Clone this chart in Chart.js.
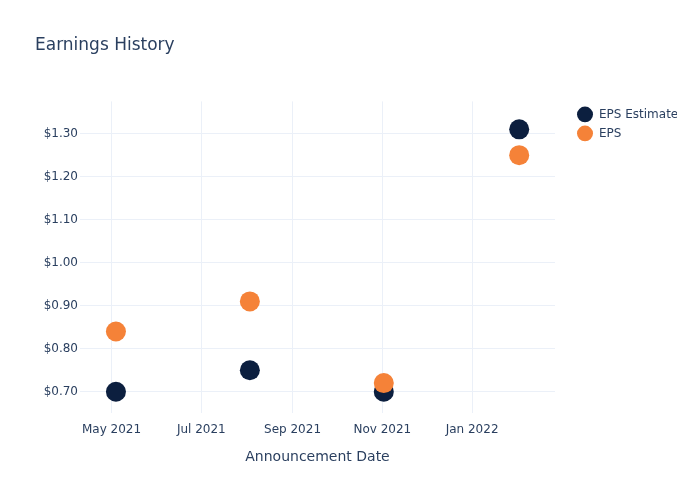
<!DOCTYPE html>
<html>
<head>
<meta charset="utf-8">
<script src="https://cdn.jsdelivr.net/npm/chart.js@4"></script>
<style>
  html, body { margin: 0; padding: 0; background: #fff; }
  #wrap { width: 700px; height: 500px; }
</style>
</head>
<body>
<div id="wrap"><canvas id="earnings"></canvas></div>
<script>
// announcement dates and values
const dates = ['2021-05-04', '2021-08-03', '2021-11-02', '2022-02-02'];
const epsEstimate = [0.70, 0.75, 0.70, 1.31];
const eps = [0.84, 0.91, 0.72, 1.25];

const xTickDates = ['2021-05-01', '2021-07-01', '2021-09-01', '2021-11-01', '2022-01-01'];
const xTickLabels = ['May 2021', 'Jul 2021', 'Sep 2021', 'Nov 2021', 'Jan 2022'];
const yTicks = [0.7, 0.8, 0.9, 1.0, 1.1, 1.2, 1.3];

const textColor = '#2a3f5f';
const gridColor = '#ebf0f8';

Chart.defaults.font.family = '"DejaVu Sans", Verdana, sans-serif';
Chart.defaults.color = textColor;

function toPoints(values) {
    return values.map((v, i) => ({ x: Date.parse(dates[i]), y: v }));
}

let ctx = document.getElementById('earnings').getContext('2d');

let chart = new Chart(ctx, {
    type: 'scatter',
    data: {
        datasets: [{
            label: 'EPS Estimate',
            data: toPoints(epsEstimate),
            backgroundColor: '#0c1f3f',
            borderWidth: 0,
            pointRadius: 10,
            pointHoverRadius: 10,
            order: 1
        }, {
            label: 'EPS',
            data: toPoints(eps),
            backgroundColor: '#f58238',
            borderWidth: 0,
            pointRadius: 10,
            pointHoverRadius: 10,
            order: 0
        }]
    },
    options: {
        responsive: true,
        maintainAspectRatio: false,
        animation: false,
        layout: {
            padding: { left: 35, right: 23, top: 0, bottom: 0 }
        },
        plugins: {
            title: {
                display: true,
                text: 'Earnings History',
                align: 'start',
                color: textColor,
                font: { size: 17, weight: 'normal' },
                padding: { top: 35, bottom: 46 }
            },
            legend: {
                position: 'right',
                align: 'start',
                fullSize: false,
                labels: {
                    usePointStyle: true,
                    pointStyle: 'circle',
                    boxHeight: 11,
                    pointStyleWidth: 16,
                    padding: 7,
                    color: textColor,
                    font: { size: 12 },
                    sort: (a, b) => a.datasetIndex - b.datasetIndex
                }
            },
            tooltip: { enabled: false }
        },
        scales: {
            x: {
                type: 'linear',
                min: Date.UTC(2021, 3, 9, 14),
                max: Date.UTC(2022, 1, 26, 8),
                afterBuildTicks: (scale) => {
                    scale.ticks = xTickDates.map(d => ({ value: Date.parse(d) }));
                },
                ticks: {
                    padding: 10,
                    maxRotation: 0,
                    autoSkip: false,
                    font: { size: 12 },
                    callback: (value, index) => xTickLabels[index]
                },
                grid: { color: gridColor, drawTicks: false },
                border: { display: false },
                title: {
                    display: true,
                    text: 'Announcement Date',
                    font: { size: 14 },
                    padding: { top: 2, bottom: 34 }
                }
            },
            y: {
                min: 0.651,
                max: 1.375,
                afterBuildTicks: (scale) => {
                    scale.ticks = yTicks.map(v => ({ value: v }));
                },
                afterFit: (scale) => { scale.width = 45; },
                ticks: {
                    padding: 2,
                    font: { size: 12 },
                    callback: (value) => '$' + value.toFixed(2)
                },
                grid: { color: gridColor, drawTicks: false },
                border: { display: false }
            },
            gap: {
                type: 'linear',
                position: 'right',
                display: true,
                ticks: { display: false },
                grid: { display: false },
                border: { display: false },
                afterFit: (scale) => { scale.width = 15; }
            }
        }
    }
});
</script>
</body>
</html>
